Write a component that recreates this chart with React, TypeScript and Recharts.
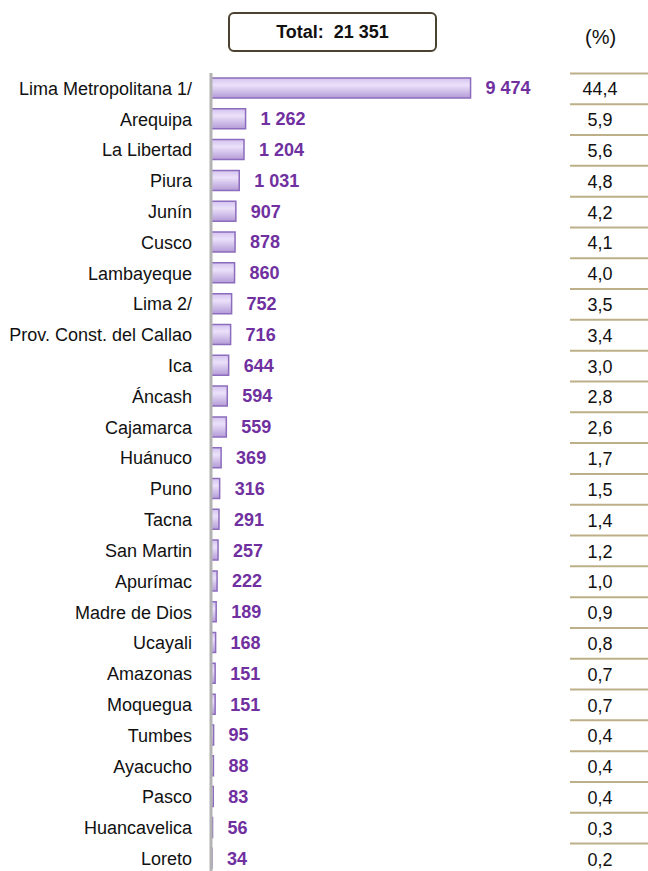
import React from "react";
import { BarChart, Bar, XAxis, YAxis, LabelList } from "recharts";

const regions = [
  "Lima Metropolitana 1/",
  "Arequipa",
  "La Libertad",
  "Piura",
  "Junín",
  "Cusco",
  "Lambayeque",
  "Lima 2/",
  "Prov. Const. del Callao",
  "Ica",
  "Áncash",
  "Cajamarca",
  "Huánuco",
  "Puno",
  "Tacna",
  "San Martin",
  "Apurímac",
  "Madre de Dios",
  "Ucayali",
  "Amazonas",
  "Moquegua",
  "Tumbes",
  "Ayacucho",
  "Pasco",
  "Huancavelica",
  "Loreto",
];

const values = [
  9474, 1262, 1204, 1031, 907, 878, 860, 752, 716, 644, 594, 559, 369, 316, 291,
  257, 222, 189, 168, 151, 151, 95, 88, 83, 56, 34,
];

const percents = [
  "44,4", "5,9", "5,6", "4,8", "4,2", "4,1", "4,0", "3,5", "3,4", "3,0", "2,8",
  "2,6", "1,7", "1,5", "1,4", "1,2", "1,0", "0,9", "0,8", "0,7", "0,7", "0,4",
  "0,4", "0,4", "0,3", "0,2",
];

const totalLabel = "Total:  21 351";

const data = regions.map((name, i) => ({
  name,
  value: values[i],
  pct: percents[i],
}));

const FONT = "'Liberation Sans Narrow', 'Arial Narrow', 'Liberation Sans', Arial, sans-serif";

function formatThousands(v: number): string {
  return String(v).replace(/\B(?=(\d{3})+(?!\d))/g, " ");
}

function PctTick(props: any) {
  const { x, y, index } = props;
  const pct = data[index]?.pct ?? "";
  return (
    <g>
      <line x1={x + 22} x2={x + 102} y1={y - 15} y2={y - 15} stroke="#bdb088" strokeWidth={2} />
      <text
        x={x + 52}
        y={y + 7}
        textAnchor="middle"
        fontFamily={FONT}
        fontSize={18}
        fill="#111"
      >
        {pct}
      </text>
    </g>
  );
}

export default function App() {
  return (
    <div
      style={{
        position: "absolute",
        top: 0,
        left: 0,
        width: 648,
        height: 871,
        overflow: "hidden",
        background: "#fff",
      }}
    >
      <div
        style={{
          position: "absolute",
          left: 228,
          top: 12,
          width: 205,
          height: 36,
          border: "2px solid #4a4330",
          borderRadius: 6,
          display: "flex",
          alignItems: "center",
          justifyContent: "center",
          whiteSpace: "pre",
          fontFamily: FONT,
          fontWeight: "bold",
          fontSize: 18,
          color: "#111",
        }}
      >
        {totalLabel}
      </div>
      <div
        style={{
          position: "absolute",
          left: 585,
          top: 26,
          fontFamily: FONT,
          fontSize: 20,
          color: "#111",
        }}
      >
        (%)
      </div>
      <div style={{ position: "absolute", top: 0, left: 0 }}>
        <BarChart
          width={648}
          height={874}
          data={data}
          layout="vertical"
          margin={{ top: 73, right: 0, bottom: 0, left: 0 }}
          barSize={20}
        >
          <defs>
            <linearGradient id="barFill" x1="0" y1="0" x2="0" y2="1">
              <stop offset="0%" stopColor="#d4c2ef" />
              <stop offset="35%" stopColor="#ebe1fa" />
              <stop offset="100%" stopColor="#b49bd7" />
            </linearGradient>
          </defs>
          <XAxis type="number" domain={[0, 12300]} hide />
          <YAxis
            type="category"
            dataKey="name"
            width={211}
            tickLine={false}
            tickSize={0}
            tickMargin={19}
            axisLine={{ stroke: "#b3b3b3", strokeWidth: 3 }}
            interval={0}
            tick={{ fontFamily: FONT, fontSize: 18, fill: "#111" }}
          />
          <YAxis
            yAxisId="pct"
            orientation="right"
            type="category"
            dataKey="name"
            width={100}
            tickLine={false}
            tickSize={0}
            tickMargin={0}
            axisLine={false}
            interval={0}
            tick={<PctTick />}
          />
          <Bar
            dataKey="value"
            fill="url(#barFill)"
            stroke="#8c6cbc"
            strokeWidth={1.5}
            isAnimationActive={false}
          >
            <LabelList
              dataKey="value"
              position="right"
              offset={15}
              formatter={(v: any) => formatThousands(Number(v))}
              style={{
                fontFamily: FONT,
                fontWeight: "bold",
                fontSize: 18,
                fill: "#7030a0",
              }}
            />
          </Bar>
        </BarChart>
      </div>
    </div>
  );
}
